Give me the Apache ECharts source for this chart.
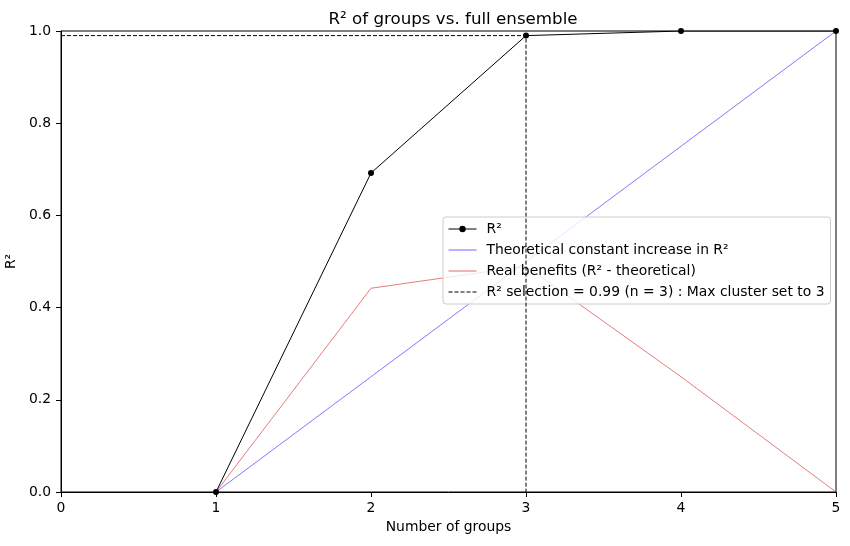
<!DOCTYPE html>
<html>
<head>
<meta charset="utf-8">
<script src="https://cdn.jsdelivr.net/npm/echarts@6/dist/echarts.min.js"></script>
<style>
  html, body { margin: 0; padding: 0; background: #fff; }
  #chart { width: 850px; height: 546px; }
</style>
</head>
<body>
<div id="chart"></div>
<script>
// données
var groups = [1, 2, 3, 4, 5];
var r2Values = [0.0, 0.692, 0.99, 1.0, 1.0];
var theoretical = [0.0, 0.25, 0.5, 0.75, 1.0];
var benefits = [0.0, 0.442, 0.49, 0.25, 0.0];
var selectionN = 3;
var selectionR2 = 0.99;

var seriesNames = [
    'R²',
    'Theoretical constant increase in R²',
    'Real benefits (R² - theoretical)',
    'R² selection = 0.99 (n = 3) : Max cluster set to 3'
];

function pairs(xs, ys) {
    return xs.map(function (x, i) { return [x, ys[i]]; });
}

var chart = echarts.init(document.getElementById('chart'));
var font = 'DejaVu Sans';
var fs = 13.9;
var hidden = { color: 'rgba(0,0,0,0)', borderWidth: 0 };

var option = {
    backgroundColor: '#fff',
    animation: false,
    textStyle: { fontFamily: font },
    title: {
        text: 'R² of groups vs. full ensemble',
        left: 448,
        textAlign: 'center',
        top: 6,
        textStyle: { fontFamily: font, fontSize: 16.7, fontWeight: 'normal', color: '#000' }
    },
    grid: {
        left: 61, right: 14, top: 31, bottom: 54,
        outerBoundsMode: 'none',
        containLabel: false,
        show: true, borderColor: '#000', borderWidth: 1
    },
    legend: {
        orient: 'vertical',
        left: 443,
        top: 217,
        padding: [5, 6, 5, 5],
        itemGap: 7,
        itemWidth: 28,
        itemHeight: 8,
        backgroundColor: 'rgba(255,255,255,0.8)',
        borderColor: '#ccc',
        borderWidth: 1,
        borderRadius: 3,
        textStyle: { fontFamily: font, fontSize: fs, color: '#000', padding: [0, 0, 0, 5] },
        data: [
            { name: seriesNames[0], lineStyle: { width: 1 } },
            { name: seriesNames[1], itemStyle: hidden, lineStyle: { width: 0.8 } },
            { name: seriesNames[2], itemStyle: hidden, lineStyle: { width: 0.8 } },
            { name: seriesNames[3], itemStyle: hidden, lineStyle: { width: 1 } }
        ]
    },
    xAxis: {
        type: 'value',
        min: 0, max: 5, interval: 1,
        name: 'Number of groups',
        nameLocation: 'middle',
        nameGap: 27,
        nameTextStyle: { fontFamily: font, fontSize: fs, color: '#000' },
        axisLine: { lineStyle: { color: '#000', width: 1 } },
        axisTick: { length: 5, lineStyle: { color: '#000' } },
        axisLabel: { fontFamily: font, fontSize: fs, color: '#000', margin: 9 },
        splitLine: { show: false }
    },
    yAxis: {
        type: 'value',
        min: 0, max: 1, interval: 0.2,
        name: 'R²',
        nameLocation: 'middle',
        nameGap: 36,
        nameTextStyle: { fontFamily: font, fontSize: fs, color: '#000' },
        axisLine: { show: true, lineStyle: { color: '#000', width: 1 } },
        axisTick: { show: true, length: 5, lineStyle: { color: '#000' } },
        axisLabel: {
            fontFamily: font, fontSize: fs, color: '#000', margin: 10,
            formatter: function (v) { return v.toFixed(1); }
        },
        splitLine: { show: false }
    },
    series: [
        {
            name: seriesNames[0],
            type: 'line',
            data: pairs(groups, r2Values),
            symbol: 'circle',
            symbolSize: 6,
            showAllSymbol: true,
            itemStyle: { color: '#000' },
            lineStyle: { color: '#000', width: 1 },
            z: 5
        },
        {
            name: seriesNames[1],
            type: 'line',
            data: pairs(groups, theoretical),
            symbol: 'none',
            itemStyle: { color: '#0000ff' },
            lineStyle: { color: '#0000ff', width: 0.7, opacity: 0.75 },
            z: 3
        },
        {
            name: seriesNames[2],
            type: 'line',
            data: pairs(groups, benefits),
            symbol: 'none',
            itemStyle: { color: '#ff0000' },
            lineStyle: { color: '#d81010', width: 0.7, opacity: 0.8 },
            z: 3
        },
        {
            name: seriesNames[3],
            type: 'line',
            data: [[0, selectionR2], [selectionN, selectionR2], [selectionN, 0]],
            symbol: 'none',
            itemStyle: { color: '#000' },
            lineStyle: { color: '#000', width: 1, type: [4, 2] },
            z: 4
        }
    ]
};

chart.setOption(option);
</script>
</body>
</html>
